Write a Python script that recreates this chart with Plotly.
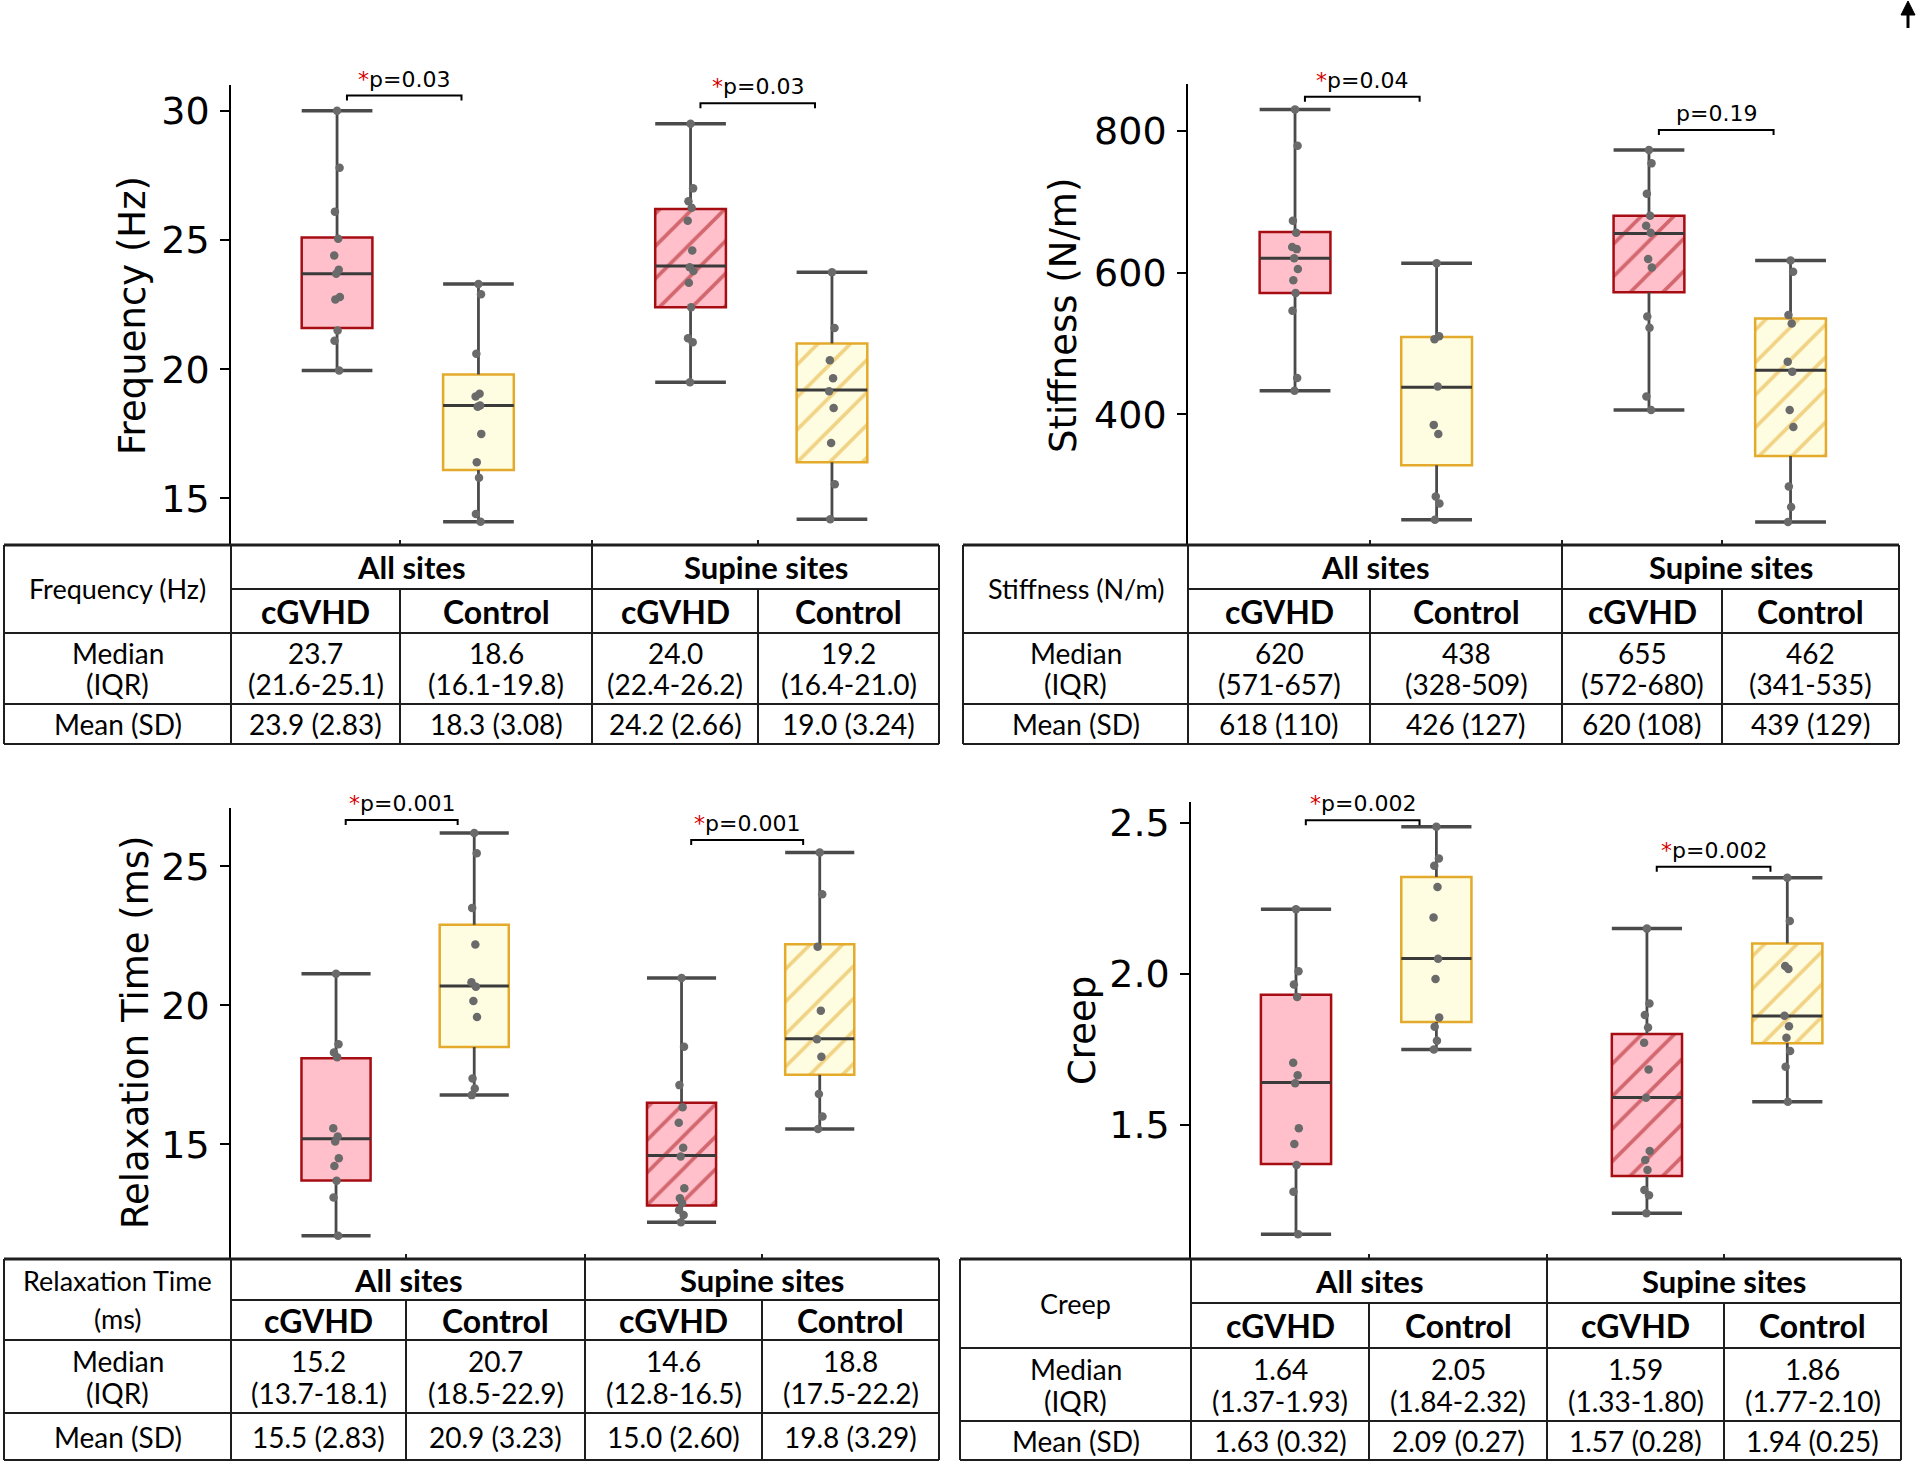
import plotly.graph_objects as go

W, H = 1920, 1471

# ---------------- data ----------------
GROUP_NAMES = ["cGVHD", "Control", "cGVHD", "Control"]
SITE_NAMES = ["All sites", "Supine sites"]
ROW_LABELS = [["Median", "(IQR)"], ["Mean (SD)"]]

# Frequency (Hz)
FREQ_CGVHD_ALL = [30.0, 27.8, 26.1, 25.05, 24.4, 23.85, 23.7, 22.8, 22.7, 21.5, 21.1, 19.95]
FREQ_CONTROL_ALL = [23.3, 22.9, 20.6, 19.05, 18.95, 18.6, 18.55, 17.5, 16.4, 15.8, 14.4, 14.1]
FREQ_CGVHD_SUP = [29.5, 27.0, 26.5, 26.25, 25.75, 24.6, 23.95, 23.8, 23.35, 22.4, 21.2, 21.05, 19.5]
FREQ_CONTROL_SUP = [23.75, 21.6, 20.35, 19.65, 19.15, 18.5, 17.15, 15.55, 14.2]
FREQ_MEDIAN = [23.7, 18.6, 24.0, 19.2]
FREQ_Q1 = [21.6, 16.1, 22.4, 16.4]
FREQ_Q3 = [25.1, 19.8, 26.2, 21.0]
FREQ_MEAN = [23.9, 18.3, 24.2, 19.0]
FREQ_SD = [2.83, 3.08, 2.66, 3.24]
FREQ_P = ["0.03", "0.03"]
FREQ_SIG = [True, True]

# Stiffness (N/m)
STIFF_CGVHD_ALL = [830, 779, 673, 656, 636, 633, 620, 605, 589, 571, 546, 451, 433]
STIFF_CONTROL_ALL = [613, 510, 506, 439, 385, 372, 284, 274, 251]
STIFF_CGVHD_SUP = [773, 754, 711, 680, 666, 656, 619, 607, 538, 522, 425, 406]
STIFF_CONTROL_SUP = [617, 601, 540, 528, 474, 460, 406, 382, 298, 269, 248]
STIFF_MEDIAN = [620, 438, 655, 462]
STIFF_Q1 = [571, 328, 572, 341]
STIFF_Q3 = [657, 509, 680, 535]
STIFF_MEAN = [618, 426, 620, 439]
STIFF_SD = [110, 127, 108, 129]
STIFF_P = ["0.04", "0.19"]
STIFF_SIG = [True, False]

# Relaxation Time (ms)
RELAX_CGVHD_ALL = [21.14, 18.6, 18.3, 18.13, 15.58, 15.28, 15.1, 14.5, 14.22, 13.69, 13.09, 11.71]
RELAX_CONTROL_ALL = [26.2, 25.47, 23.5, 22.19, 20.83, 20.67, 20.16, 19.58, 17.37, 17.01, 16.77]
RELAX_CGVHD_SUP = [20.98, 18.51, 17.13, 16.33, 15.78, 14.88, 14.56, 13.42, 13.06, 12.88, 12.64, 12.46, 12.2]
RELAX_CONTROL_SUP = [25.5, 24.0, 22.11, 19.81, 18.78, 18.15, 16.81, 16.0, 15.55]
RELAX_MEDIAN = [15.2, 20.7, 14.6, 18.8]
RELAX_Q1 = [13.7, 18.5, 12.8, 17.5]
RELAX_Q3 = [18.1, 22.9, 16.5, 22.2]
RELAX_MEAN = [15.5, 20.9, 15.0, 19.8]
RELAX_SD = [2.83, 3.23, 2.60, 3.29]
RELAX_P = ["0.001", "0.001"]
RELAX_SIG = [True, True]

# Creep
CREEP_CGVHD_ALL = [2.213, 2.008, 1.964, 1.923, 1.705, 1.664, 1.637, 1.488, 1.436, 1.367, 1.278, 1.138]
CREEP_CONTROL_ALL = [2.486, 2.381, 2.357, 2.287, 2.186, 2.049, 1.982, 1.855, 1.824, 1.778, 1.749]
CREEP_CGVHD_SUP = [2.149, 1.901, 1.863, 1.822, 1.771, 1.683, 1.589, 1.413, 1.383, 1.35, 1.284, 1.267, 1.207]
CREEP_CONTROL_SUP = [2.317, 2.174, 2.025, 2.015, 1.861, 1.826, 1.788, 1.744, 1.692, 1.576]
CREEP_MEDIAN = [1.64, 2.05, 1.59, 1.86]
CREEP_Q1 = [1.37, 1.84, 1.33, 1.77]
CREEP_Q3 = [1.93, 2.32, 1.80, 2.10]
CREEP_MEAN = [1.63, 2.09, 1.57, 1.94]
CREEP_SD = [0.32, 0.27, 0.28, 0.25]
CREEP_P = ["0.002", "0.002"]
CREEP_SIG = [True, True]

Y_TITLES = ["Frequency (Hz)", "Stiffness (N/m)", "Relaxation Time (ms)", "Creep"]
TABLE_LABELS = [["Frequency (Hz)"], ["Stiffness (N/m)"], ["Relaxation Time", "(ms)"], ["Creep"]]
Y_TICKS = [[15, 20, 25, 30], [400, 600, 800], [15, 20, 25], [1.5, 2.0, 2.5]]

PANEL_DATA = [
    dict(points=[FREQ_CGVHD_ALL, FREQ_CONTROL_ALL, FREQ_CGVHD_SUP, FREQ_CONTROL_SUP],
         median=FREQ_MEDIAN, q1=FREQ_Q1, q3=FREQ_Q3, mean=FREQ_MEAN, sd=FREQ_SD,
         p=FREQ_P, sig=FREQ_SIG, dec=1, sddec=2),
    dict(points=[STIFF_CGVHD_ALL, STIFF_CONTROL_ALL, STIFF_CGVHD_SUP, STIFF_CONTROL_SUP],
         median=STIFF_MEDIAN, q1=STIFF_Q1, q3=STIFF_Q3, mean=STIFF_MEAN, sd=STIFF_SD,
         p=STIFF_P, sig=STIFF_SIG, dec=0, sddec=0),
    dict(points=[RELAX_CGVHD_ALL, RELAX_CONTROL_ALL, RELAX_CGVHD_SUP, RELAX_CONTROL_SUP],
         median=RELAX_MEDIAN, q1=RELAX_Q1, q3=RELAX_Q3, mean=RELAX_MEAN, sd=RELAX_SD,
         p=RELAX_P, sig=RELAX_SIG, dec=1, sddec=2),
    dict(points=[CREEP_CGVHD_ALL, CREEP_CONTROL_ALL, CREEP_CGVHD_SUP, CREEP_CONTROL_SUP],
         median=CREEP_MEDIAN, q1=CREEP_Q1, q3=CREEP_Q3, mean=CREEP_MEAN, sd=CREEP_SD,
         p=CREEP_P, sig=CREEP_SIG, dec=2, sddec=2),
]

# ---------------- layout (pixel positions / styles) ----------------
LAYOUT = [
    dict(px=(231, 939), py=(85, 545), xr=(-0.75, 4.257), yr=(13.2, 31.0), tfmt="d",
         title=(133, 316), tleft=4, tcols=[231, 400, 592, 758], tright=939,
         trows=[545, 589, 633, 704, 744], br=[30.59, 30.29]),
    dict(px=(1188, 1899), py=(84, 545), xr=(-0.756, 4.266), yr=(215.5, 866), tfmt="d",
         title=(1064, 316), tleft=963, tcols=[1188, 1370, 1562, 1722], tright=1899,
         trows=[545, 589, 633, 704, 744], br=[848.1, 801.1]),
    dict(px=(231, 939), py=(808, 1258), xr=(-0.76, 4.363), yr=(10.91, 27.1), tfmt="d",
         title=(135, 1033), tleft=4, tcols=[231, 406, 585, 762], tright=939,
         trows=[1259, 1300, 1340, 1413, 1460], br=[26.67, 25.95]),
    dict(px=(1191, 1901), py=(802, 1258), xr=(-0.748, 4.31), yr=(1.059, 2.568), tfmt=".1f",
         title=(1082, 1031), tleft=960, tcols=[1191, 1369, 1547, 1724], tright=1901,
         trows=[1259, 1303, 1348, 1421, 1460], br=[2.508, 2.354]),
]
X_POS = [0, 1, 2.5, 3.5]
BOX_W = 0.5
FILLS = ["#FFC0CB", "#FFFDE1", "#FFC0CB", "#FFFDE1"]
EDGES = ["#A50D12", "#E3AA2B", "#A50D12", "#E3AA2B"]
HATCH = ["", "", "/", "/"]
WHISK = "#4a4a4a"
MED_C = "#3a3a3a"
PT_C = "#6a6a6a"
JIT = [0.0, 0.018, -0.015, 0.008, -0.02, 0.012, -0.006, 0.02, -0.012, 0.004, -0.018, 0.015, -0.004]

PLOT_FONT = "DejaVu Sans"
TAB_FONT = "Lato, Calibri, Carlito, sans-serif"
LINE_C = "#1e1e1e"


def pxx(x):
    return x / W


def pyy(y):
    return 1 - y / H


fig = go.Figure()
layout = dict(width=W, height=H, margin=dict(l=0, r=0, t=0, b=0),
              paper_bgcolor="white", plot_bgcolor="rgba(0,0,0,0)",
              showlegend=False, barmode="overlay")
annotations = []
shapes = []

for i, (D, L) in enumerate(zip(PANEL_DATA, LAYOUT)):
    s = "" if i == 0 else str(i + 1)
    xa, ya = "x" + s, "y" + s
    layout["xaxis" + s] = dict(domain=[pxx(L["px"][0]), pxx(L["px"][1])], anchor=ya,
                               range=list(L["xr"]), visible=False, fixedrange=True)
    layout["yaxis" + s] = dict(domain=[pyy(L["py"][1]), pyy(L["py"][0])], anchor=xa,
                               range=list(L["yr"]), showgrid=False, zeroline=False,
                               showline=True, linecolor="black", linewidth=1.5,
                               ticks="outside", ticklen=9, tickwidth=1.5, tickcolor="black",
                               ticklabelstandoff=3,
                               tickvals=Y_TICKS[i], tickformat=L["tfmt"],
                               tickfont=dict(family=PLOT_FONT, size=38, color="black"))
    hw = BOX_W / 2
    # boxes (IQR)
    for g in range(4):
        xc = X_POS[g]
        fig.add_trace(go.Bar(
            x=[xc], y=[D["q3"][g] - D["q1"][g]], base=[D["q1"][g]], width=[BOX_W],
            xaxis=xa, yaxis=ya,
            marker=dict(color=FILLS[g], line=dict(color=EDGES[g], width=2.5),
                        pattern=dict(shape=HATCH[g], fgcolor=EDGES[g], bgcolor=FILLS[g],
                                     size=23, solidity=0.16)),
            hoverinfo="skip"))
    # whiskers, caps, medians
    for g in range(4):
        xc = X_POS[g]
        pts = D["points"][g]
        lo, hi = min(pts), max(pts)
        fig.add_trace(go.Scatter(x=[xc, xc, None, xc, xc], y=[lo, D["q1"][g], None, D["q3"][g], hi],
                                 mode="lines", line=dict(color=WHISK, width=2.8),
                                 xaxis=xa, yaxis=ya, hoverinfo="skip"))
        fig.add_trace(go.Scatter(x=[xc - hw, xc + hw, None, xc - hw, xc + hw], y=[hi, hi, None, lo, lo],
                                 mode="lines", line=dict(color=WHISK, width=3.5),
                                 xaxis=xa, yaxis=ya, hoverinfo="skip"))
        fig.add_trace(go.Scatter(x=[xc - hw, xc + hw], y=[D["median"][g], D["median"][g]],
                                 mode="lines", line=dict(color=MED_C, width=3),
                                 xaxis=xa, yaxis=ya, hoverinfo="skip"))
    # points
    for g in range(4):
        xc = X_POS[g]
        pts = D["points"][g]
        fig.add_trace(go.Scatter(x=[xc + JIT[k % len(JIT)] for k in range(len(pts))], y=pts,
                                 mode="markers", marker=dict(color=PT_C, size=8.5),
                                 xaxis=xa, yaxis=ya, hoverinfo="skip"))
    # significance brackets
    ppu = (L["py"][1] - L["py"][0]) / (L["yr"][1] - L["yr"][0])
    drop = 5 / ppu
    for k in range(2):
        a = X_POS[2 * k] + 0.07
        b = X_POS[2 * k + 1] - 0.12
        lvl = L["br"][k]
        fig.add_trace(go.Scatter(x=[a, a, b, b], y=[lvl - drop, lvl, lvl, lvl - drop],
                                 mode="lines", line=dict(color="black", width=2),
                                 xaxis=xa, yaxis=ya, cliponaxis=False, hoverinfo="skip"))
        star = '<span style="color:#d40000">*</span>' if D["sig"][k] else ""
        annotations.append(dict(x=(a + b) / 2, y=lvl, xref=xa, yref=ya, yanchor="bottom",
                                yshift=2, showarrow=False, text=star + "p=" + D["p"][k],
                                font=dict(family=PLOT_FONT, size=22, color="black")))
    # y-axis title
    annotations.append(dict(x=pxx(L["title"][0]), y=pyy(L["title"][1]), xref="paper", yref="paper",
                            text=Y_TITLES[i], textangle=-90, showarrow=False,
                            xanchor="center", yanchor="middle",
                            font=dict(family=PLOT_FONT, size=37, color="black")))

    # ---------- table ----------
    left, right = L["tleft"], L["tright"]
    c = L["tcols"]
    r = L["trows"]

    def hline(y, x0, x1, w=2):
        shapes.append(dict(type="line", xref="paper", yref="paper", x0=pxx(x0), x1=pxx(x1),
                           y0=pyy(y), y1=pyy(y), line=dict(color=LINE_C, width=w)))

    def vline(x, y0, y1, w=2):
        shapes.append(dict(type="line", xref="paper", yref="paper", x0=pxx(x), x1=pxx(x),
                           y0=pyy(y0), y1=pyy(y1), line=dict(color=LINE_C, width=w)))

    hline(r[0], left, right, 3)
    hline(r[1], c[0], right)
    hline(r[2], left, right)
    hline(r[3], left, right)
    hline(r[4], left, right)
    vline(left, r[0], r[4])
    vline(right, r[0], r[4])
    vline(c[0], r[0], r[4])
    vline(c[2], r[0] - 5, r[4])
    vline(c[1], r[1], r[4])
    vline(c[3], r[1], r[4])
    vline(c[1], r[0] - 5, r[0])
    vline(c[3], r[0] - 5, r[0])

    def txt(x, y, t, size=28, bold=False):
        annotations.append(dict(x=pxx(x), y=pyy(y), xref="paper", yref="paper", text=t,
                                showarrow=False, xanchor="center", yanchor="middle",
                                font=dict(family=TAB_FONT, size=size, color="black",
                                          weight="bold" if bold else "normal")))

    # label cell (spans two header rows)
    lab = TABLE_LABELS[i]
    lc = (r[0] + r[2]) / 2
    if len(lab) == 1:
        txt((left + c[0]) / 2, lc, lab[0], 27)
    else:
        txt((left + c[0]) / 2, lc - 19, lab[0], 27)
        txt((left + c[0]) / 2, lc + 19, lab[1], 27)
    # site headers
    txt((c[0] + c[2]) / 2, (r[0] + r[1]) / 2, SITE_NAMES[0], 31, True)
    txt((c[2] + right) / 2, (r[0] + r[1]) / 2, SITE_NAMES[1], 31, True)
    colc = [(c[0] + c[1]) / 2, (c[1] + c[2]) / 2, (c[2] + c[3]) / 2, (c[3] + right) / 2]
    for g in range(4):
        txt(colc[g], (r[1] + r[2]) / 2, GROUP_NAMES[g], 32, True)
    mrow = (r[2] + r[3]) / 2
    txt((left + c[0]) / 2, mrow - 16, ROW_LABELS[0][0])
    txt((left + c[0]) / 2, mrow + 16, ROW_LABELS[0][1])
    txt((left + c[0]) / 2, (r[3] + r[4]) / 2, ROW_LABELS[1][0])
    dec, sdd = D["dec"], D["sddec"]
    for g in range(4):
        txt(colc[g], mrow - 16, f"{D['median'][g]:.{dec}f}")
        txt(colc[g], mrow + 16, f"({D['q1'][g]:.{dec}f}-{D['q3'][g]:.{dec}f})")
        txt(colc[g], (r[3] + r[4]) / 2, f"{D['mean'][g]:.{dec}f} ({D['sd'][g]:.{sdd}f})")

# small arrow glyph in top-right corner
AX = 1908
shapes.append(dict(type="path", xref="paper", yref="paper",
                   path=f"M {pxx(AX - 7)},{pyy(15)} L {pxx(AX)},{pyy(1)} L {pxx(AX + 7)},{pyy(15)} Z",
                   fillcolor="black", line=dict(color="black", width=1)))
shapes.append(dict(type="line", xref="paper", yref="paper", x0=pxx(AX), x1=pxx(AX),
                   y0=pyy(14), y1=pyy(28), line=dict(color="black", width=3)))

layout["annotations"] = annotations
layout["shapes"] = shapes
fig.update_layout(**layout)
fig.write_html("out.html", config={"displayModeBar": False},
               post_script="document.body.style.margin='0';document.body.style.overflow='hidden';")
